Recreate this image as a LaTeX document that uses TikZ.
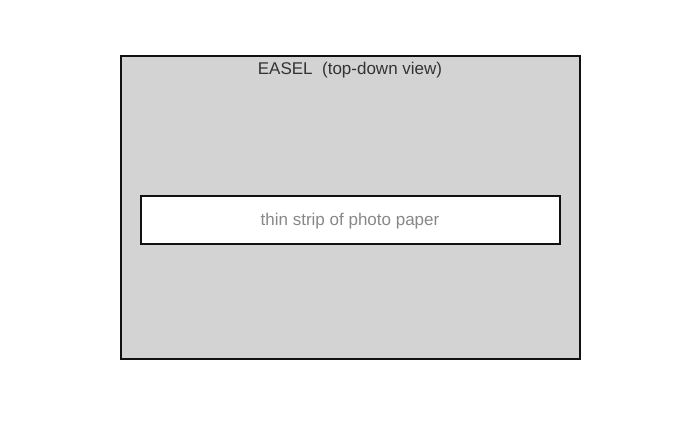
\documentclass[tikz,border=0pt]{standalone}
\usepackage{fontspec}
\setmainfont{Liberation Sans}
\definecolor{easelfill}{HTML}{D3D3D3}
\definecolor{edge}{HTML}{111111}
\definecolor{titlec}{HTML}{333333}
\definecolor{paperc}{HTML}{888888}
\begin{document}
\begin{tikzpicture}[x=1pt,y=-1pt,
  box/.style={draw=edge,line width=2pt},
  lbl/.style={font=\fontsize{17}{19}\selectfont,inner sep=0pt}]
\useasboundingbox (0,0) rectangle (700,430);
\fill[white] (0,0) rectangle (700,430);
\draw[box,fill=easelfill] (121,56) rectangle (580,359);
\node[lbl,text=titlec,anchor=base] (title) at (350,75) {EASEL\ \ (top-down view)};
\draw[box,fill=white] (141,196) rectangle (560,244);
\node[lbl,text=paperc,anchor=base] (paper) at (350,225) {thin strip of photo paper};
\end{tikzpicture}
\end{document}
